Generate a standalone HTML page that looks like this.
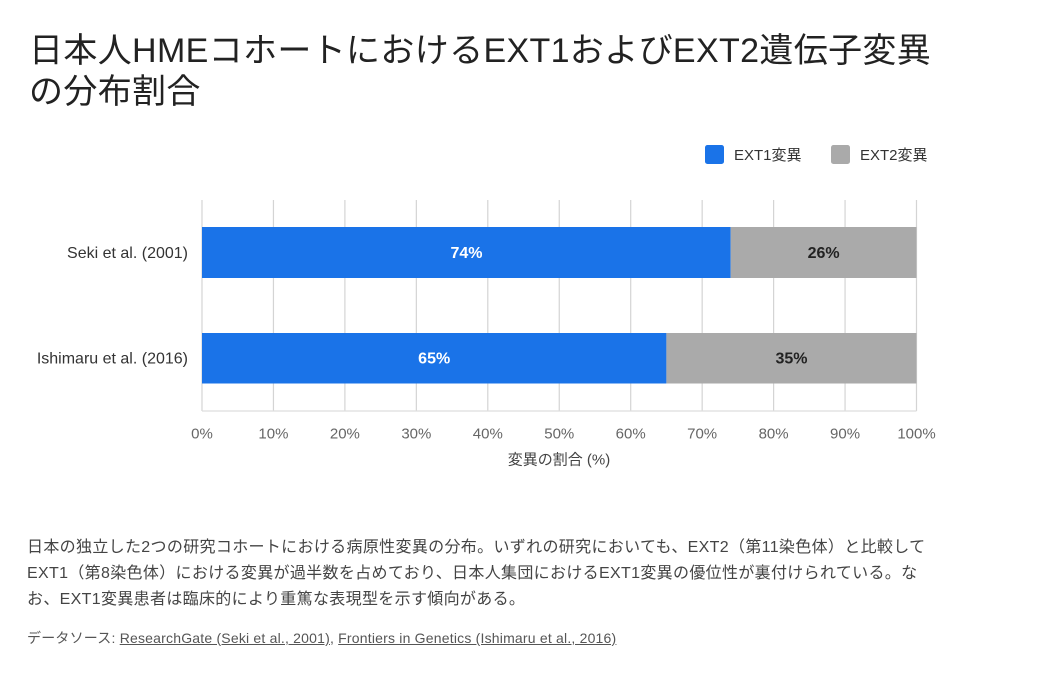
<!DOCTYPE html>
<html>
<head>
<meta charset="utf-8">
<style>
  html, body { margin:0; padding:0; background:#fff; }
  body { width:1037px; height:699px; position:relative; overflow:hidden;
         font-family:"Liberation Sans","Noto Sans CJK JP",sans-serif; }
  .title { position:absolute; left:29px; top:31px; font-size:34px; line-height:41px;
           color:#222; white-space:nowrap; letter-spacing:0.35px; }
  .desc { position:absolute; left:27px; top:535px; font-size:16px; line-height:26px;
          color:#444; white-space:nowrap; letter-spacing:0.33px; }
  .src { position:absolute; left:27px; top:628px; font-size:14px; line-height:20px;
         color:#555; white-space:nowrap; letter-spacing:0.2px; }
  .src span { text-decoration:underline; }
  svg { position:absolute; left:0; top:0; }
</style>
</head>
<body>
<div class="title">日本人HMEコホートにおけるEXT1およびEXT2遺伝子変異<br>の分布割合</div>

<svg width="1037" height="699" viewBox="0 0 1037 699" font-family="Liberation Sans, Noto Sans CJK JP, sans-serif">
  <!-- legend -->
  <rect x="705" y="145" width="19" height="19" rx="2.5" fill="#1a73e8"/>
  <text x="734" y="160" font-size="15" fill="#333">EXT1変異</text>
  <rect x="831" y="145" width="19" height="19" rx="2.5" fill="#aaaaaa"/>
  <text x="860" y="160" font-size="15" fill="#333">EXT2変異</text>

  <!-- gridlines -->
  <g stroke="#d4d4d4" stroke-width="1.2">
    <line x1="202" y1="200" x2="202" y2="411"/>
    <line x1="273.45" y1="200" x2="273.45" y2="411"/>
    <line x1="344.9" y1="200" x2="344.9" y2="411"/>
    <line x1="416.35" y1="200" x2="416.35" y2="411"/>
    <line x1="487.8" y1="200" x2="487.8" y2="411"/>
    <line x1="559.25" y1="200" x2="559.25" y2="411"/>
    <line x1="630.7" y1="200" x2="630.7" y2="411"/>
    <line x1="702.15" y1="200" x2="702.15" y2="411"/>
    <line x1="773.6" y1="200" x2="773.6" y2="411"/>
    <line x1="845.05" y1="200" x2="845.05" y2="411"/>
    <line x1="916.5" y1="200" x2="916.5" y2="411"/>
  </g>
  <line x1="202" y1="411" x2="916.5" y2="411" stroke="#dddddd" stroke-width="1.2"/>

  <!-- bars -->
  <rect x="202" y="227" width="528.7" height="51" fill="#1a73e8"/>
  <rect x="730.7" y="227" width="185.8" height="51" fill="#aaaaaa"/>
  <rect x="202" y="333" width="464.4" height="50.5" fill="#1a73e8"/>
  <rect x="666.4" y="333" width="250.1" height="50.5" fill="#aaaaaa"/>

  <!-- data labels -->
  <g font-size="16" font-weight="bold" text-anchor="middle">
    <text x="466.5" y="257.8" fill="#ffffff">74%</text>
    <text x="823.6" y="257.8" fill="#222222">26%</text>
    <text x="434.2" y="363.5" fill="#ffffff">65%</text>
    <text x="791.5" y="363.5" fill="#222222">35%</text>
  </g>

  <!-- y labels -->
  <g font-size="16" fill="#333" text-anchor="end">
    <text x="188" y="257.8">Seki et al. (2001)</text>
    <text x="188" y="363.5">Ishimaru et al. (2016)</text>
  </g>

  <!-- x tick labels -->
  <g font-size="15" fill="#666" text-anchor="middle">
    <text x="202" y="438.5">0%</text>
    <text x="273.45" y="438.5">10%</text>
    <text x="344.9" y="438.5">20%</text>
    <text x="416.35" y="438.5">30%</text>
    <text x="487.8" y="438.5">40%</text>
    <text x="559.25" y="438.5">50%</text>
    <text x="630.7" y="438.5">60%</text>
    <text x="702.15" y="438.5">70%</text>
    <text x="773.6" y="438.5">80%</text>
    <text x="845.05" y="438.5">90%</text>
    <text x="916.5" y="438.5">100%</text>
  </g>
  <text x="559" y="464.7" font-size="15" fill="#444" text-anchor="middle">変異の割合 (%)</text>
</svg>

<div class="desc">日本の独立した2つの研究コホートにおける病原性変異の分布。いずれの研究においても、EXT2（第11染色体）と比較して<br>EXT1（第8染色体）における変異が過半数を占めており、日本人集団におけるEXT1変異の優位性が裏付けられている。な<br>お、EXT1変異患者は臨床的により重篤な表現型を示す傾向がある。</div>

<div class="src">データソース: <span>ResearchGate (Seki et al., 2001)</span>, <span>Frontiers in Genetics (Ishimaru et al., 2016)</span></div>
</body>
</html>
